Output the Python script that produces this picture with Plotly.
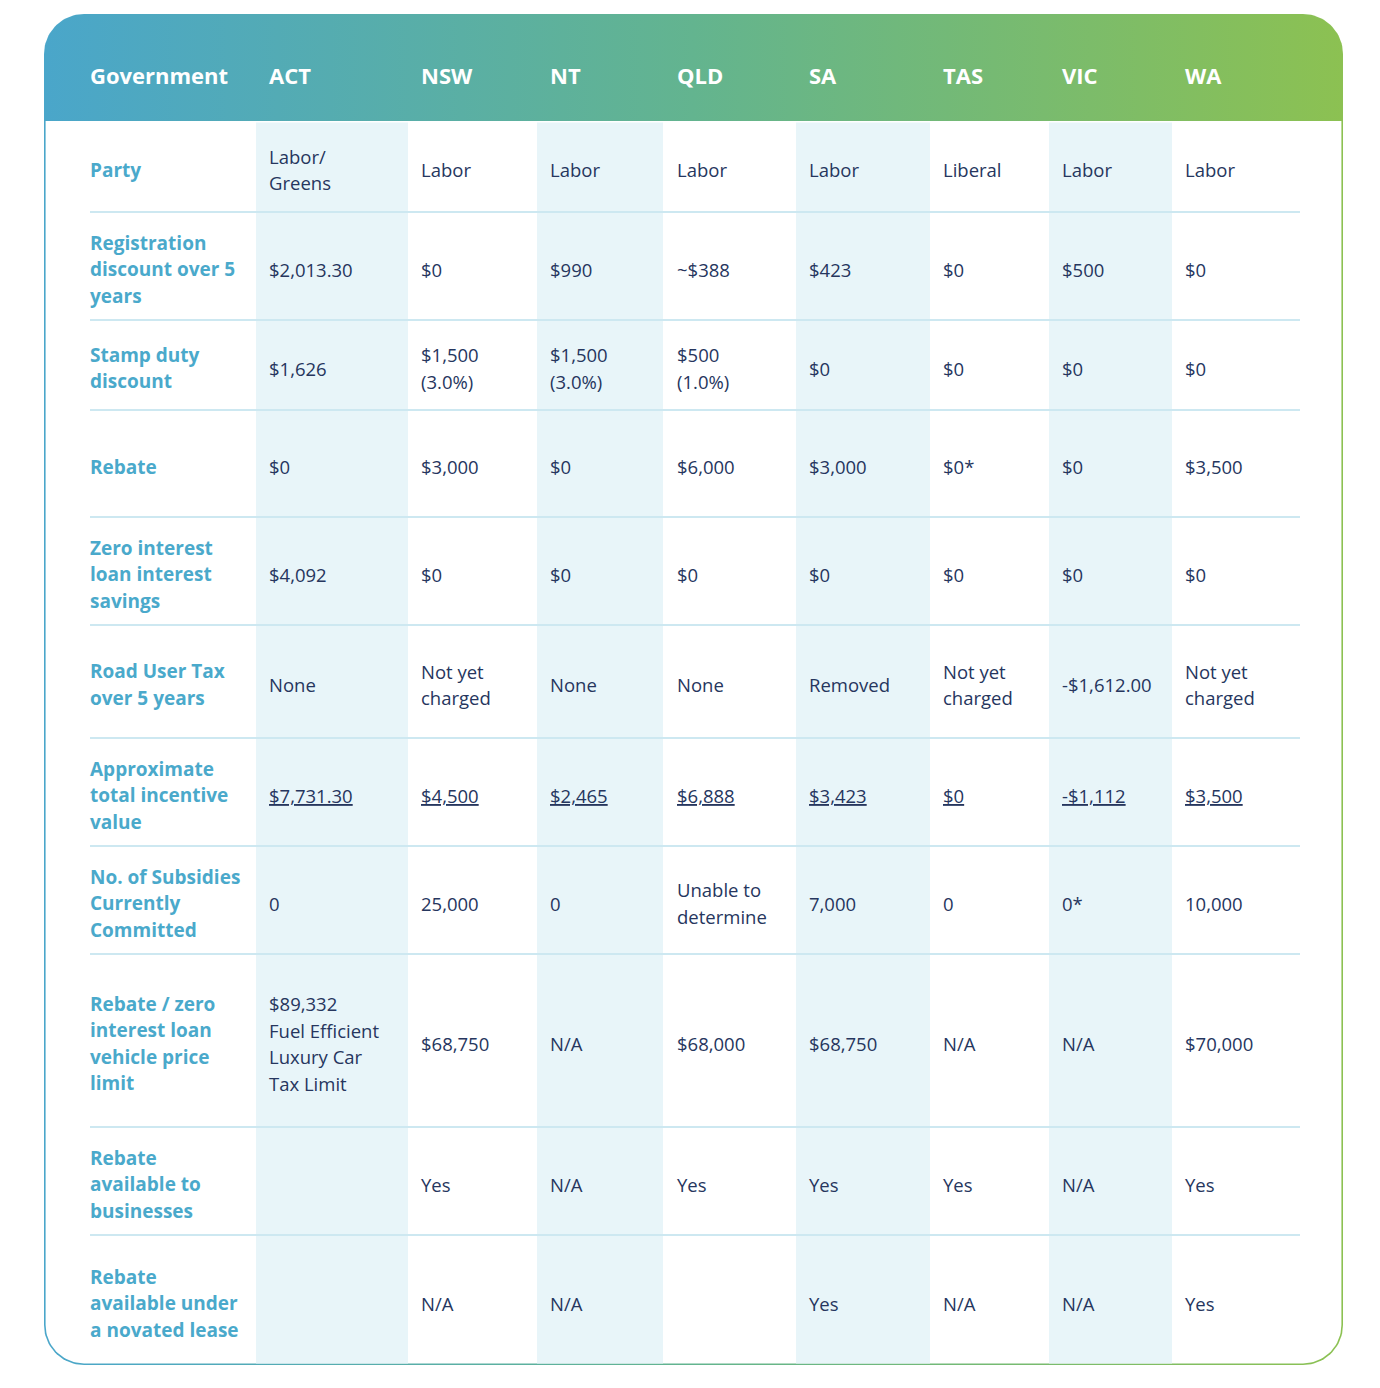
import numpy as np
import plotly.graph_objects as go

# ---------------- data ----------------
header_title = "Government"
states = ["ACT", "NSW", "NT", "QLD", "SA", "TAS", "VIC", "WA"]

row_labels = [
    "Party",
    "Registration\ndiscount over 5\nyears",
    "Stamp duty\ndiscount",
    "Rebate",
    "Zero interest\nloan interest\nsavings",
    "Road User Tax\nover 5 years",
    "Approximate\ntotal incentive\nvalue",
    "No. of Subsidies\nCurrently\nCommitted",
    "Rebate / zero\ninterest loan\nvehicle price\nlimit",
    "Rebate\navailable to\nbusinesses",
    "Rebate\navailable under\na novated lease",
]

act = ["Labor/\nGreens", "$2,013.30", "$1,626", "$0", "$4,092", "None", "$7,731.30", "0",
       "$89,332\nFuel Efficient\nLuxury Car\nTax Limit", "", ""]
nsw = ["Labor", "$0", "$1,500\n(3.0%)", "$3,000", "$0", "Not yet\ncharged", "$4,500", "25,000",
       "$68,750", "Yes", "N/A"]
nt = ["Labor", "$990", "$1,500\n(3.0%)", "$0", "$0", "None", "$2,465", "0",
      "N/A", "N/A", "N/A"]
qld = ["Labor", "~$388", "$500\n(1.0%)", "$6,000", "$0", "None", "$6,888", "Unable to\ndetermine",
       "$68,000", "Yes", ""]
sa = ["Labor", "$423", "$0", "$3,000", "$0", "Removed", "$3,423", "7,000",
      "$68,750", "Yes", "Yes"]
tas = ["Liberal", "$0", "$0", "$0*", "$0", "Not yet\ncharged", "$0", "0",
       "N/A", "Yes", "N/A"]
vic = ["Labor", "$500", "$0", "$0", "$0", "-$1,612.00", "-$1,112", "0*",
       "N/A", "N/A", "N/A"]
wa = ["Labor", "$0", "$0", "$3,500", "$0", "Not yet\ncharged", "$3,500", "10,000",
      "$70,000", "Yes", "Yes"]
columns = [act, nsw, nt, qld, sa, tas, vic, wa]
underlined_row = "Approximate\ntotal incentive\nvalue"

# ---------------- layout constants ----------------
W, H = 1380, 1388
page_off = 8  # default body margin of the html page
box_l, box_r, box_t, box_b = 44, 1343, 14, 1365
radius = 40
header_bottom = 121
row_edges = [121, 212, 320, 410, 517, 625, 738, 846, 954, 1127, 1235, 1365]
col_x = [90, 269, 421, 550, 677, 809, 943, 1062, 1185]
shaded = [(256, 408), (537, 663), (796, 930), (1049, 1172)]
line_h = 26.5

label_color = "#4aa9cb"
text_color = "#26365e"
shade_color = "#e8f5f9"
rule_color = "#cde8f1"
font_family = "Open Sans"
label_size, cell_size, head_size = 19, 18.5, 22


def rounded_path(l, r, t, b, rt, rb):
    xs, ys = [], []
    def arc(cx, cy, rad, a0, a1):
        a = np.linspace(a0, a1, 24)
        xs.extend(cx + rad * np.cos(a))
        ys.extend(cy + rad * np.sin(a))
    if rt > 0:
        arc(l + rt, t + rt, rt, np.pi, 1.5 * np.pi)
        arc(r - rt, t + rt, rt, 1.5 * np.pi, 2 * np.pi)
    else:
        xs.extend([l, r]); ys.extend([t, t])
    if rb > 0:
        arc(r - rb, b - rb, rb, 0, 0.5 * np.pi)
        arc(l + rb, b - rb, rb, 0.5 * np.pi, np.pi)
    else:
        xs.extend([r, l]); ys.extend([b, b])
    xs.append(xs[0]); ys.append(ys[0])
    return xs, ys


fig = go.Figure()

ox, oy = rounded_path(box_l, box_r, box_t, box_b, radius, radius)
fig.add_trace(go.Scatter(
    x=ox, y=oy, mode="lines", fill="toself", line=dict(width=0),
    fillgradient=dict(type="horizontal",
                      colorscale=[[0, "#4aa6ca"], [0.5, "#63b48f"], [1, "#8cc152"]]),
    hoverinfo="skip", showlegend=False))

bw = 1.6
ix, iy = rounded_path(box_l + bw, box_r - bw, header_bottom, box_b - bw, 0, radius - bw)
fig.add_trace(go.Scatter(
    x=ix, y=iy, mode="lines", fill="toself", fillcolor="white", line=dict(width=0),
    hoverinfo="skip", showlegend=False))

shapes = []
for x0, x1 in shaded:
    shapes.append(dict(type="rect", xref="x", yref="y", x0=x0, x1=x1,
                       y0=header_bottom + 1.5, y1=box_b - bw,
                       fillcolor=shade_color, line=dict(width=0), layer="above"))
for y in row_edges[1:-1]:
    shapes.append(dict(type="line", xref="x", yref="y", x0=90, x1=1300, y0=y, y1=y,
                       line=dict(color=rule_color, width=1.8), layer="above"))

annotations = []


def add_text(x, yc, text, size, color, bold=False, under=False):
    lines = text.split("\n")
    n = len(lines)
    for k, ln in enumerate(lines):
        if not ln:
            continue
        y = yc + (k - (n - 1) / 2) * line_h
        f = dict(family=font_family, size=size, color=color,
                 weight="bold" if bold else "normal")
        if under:
            f["lineposition"] = "under"
        annotations.append(dict(x=x, y=y, xref="x", yref="y", text=ln, showarrow=False,
                                xanchor="left", yanchor="middle", font=f,
                                xshift=-2))


add_text(col_x[0], 75, header_title, head_size, "white", bold=True)
for j, s in enumerate(states):
    add_text(col_x[j + 1], 75, s, head_size, "white", bold=True)

for i, lab in enumerate(row_labels):
    yc = (row_edges[i] + row_edges[i + 1]) / 2 + 3
    add_text(col_x[0], yc, lab, label_size, label_color, bold=True)
    for j, col in enumerate(columns):
        add_text(col_x[j + 1], yc, col[i], cell_size, text_color, under=(lab == underlined_row))

fig.update_layout(
    width=W, height=H, margin=dict(l=0, r=0, t=0, b=0),
    paper_bgcolor="white", plot_bgcolor="white",
    xaxis=dict(range=[page_off, W + page_off], visible=False, fixedrange=True),
    yaxis=dict(range=[H + page_off, page_off], visible=False, fixedrange=True),
    shapes=shapes, annotations=annotations, showlegend=False,
)

fig.write_html("out.html")
